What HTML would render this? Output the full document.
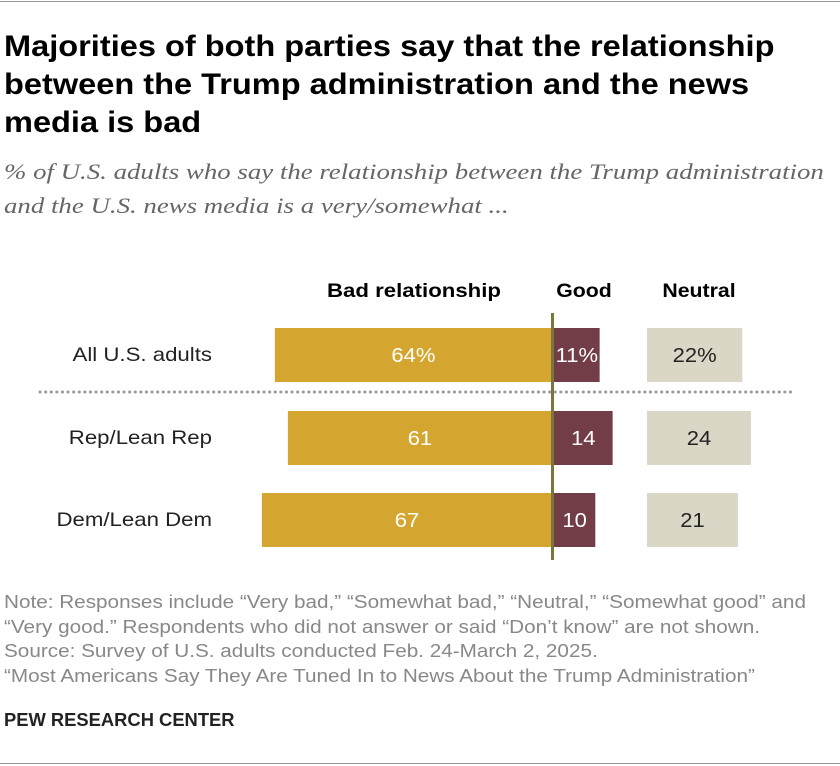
<!DOCTYPE html>
<html><head><meta charset="utf-8"><style>
body{margin:0;width:840px;height:766px;background:#fff;font-family:"Liberation Sans",sans-serif;position:relative;overflow:hidden}
.t{position:absolute;white-space:nowrap;transform-origin:0 0}
</style></head><body>
<div style="position:absolute;left:0;top:1px;width:840px;height:1px;background:#999"></div>
<div class="t" style="left:4px;top:28px;font-size:30px;font-weight:bold;line-height:38px;color:#000;transform:scaleX(1.085)">Majorities of both parties say that the relationship<br>between the Trump administration and the news<br>media is bad</div>
<div class="t" style="left:4px;top:155px;font-family:'Liberation Serif',serif;font-style:italic;font-size:22px;line-height:34px;color:#666;transform:scaleX(1.22)">% of U.S. adults who say the relationship between the Trump administration<br>and the U.S. news media is a very/somewhat ...</div>
<svg id="chart" width="840" height="580" style="position:absolute;left:0;top:0" font-family="Liberation Sans, sans-serif"></svg>
<div class="t" style="left:4px;top:590px;font-size:18px;line-height:24.5px;color:#888;transform:scaleX(1.15)">Note: Responses include “Very bad,” “Somewhat bad,” “Neutral,” “Somewhat good” and<br>“Very good.” Respondents who did not answer or said “Don’t know” are not shown.<br>Source: Survey of U.S. adults conducted Feb. 24-March 2, 2025.<br>“Most Americans Say They Are Tuned In to News About the Trump Administration”</div>
<div class="t" style="left:4px;top:710px;font-size:18px;font-weight:bold;color:#222;transform:scaleX(1.02)">PEW RESEARCH CENTER</div>
<div style="position:absolute;left:0;top:763px;width:840px;height:1px;background:#999"></div>
<script>
const categories=["All U.S. adults","Rep/Lean Rep","Dem/Lean Dem"];
const badValues=[64,61,67];
const goodValues=[11,14,10];
const neutralValues=[22,24,21];
const svg=document.getElementById('chart');
const NS='http://www.w3.org/2000/svg';
const k=4.33, zero=552, nStart=647;
const rowY=[328,411,493], h=54;
function sx(v){return v*k;}
function mk(tag,attrs,name){const e=document.createElementNS(NS,tag);for(const a in attrs)e.setAttribute(a,attrs[a]);


svg.appendChild(e);return e;}
function txt(x,y,s,attrs,name,scale){const e=mk('text',Object.assign({x:0,y:0,transform:'translate('+x+','+y+') scale('+(scale||1)+',1)'},attrs),name);e.textContent=s;return e;}
txt(414,297,"Bad relationship",{"font-size":19,"font-weight":"bold","text-anchor":"middle",fill:"#000"},"header-bad",1.17);
txt(584,297,"Good",{"font-size":19,"font-weight":"bold","text-anchor":"middle",fill:"#000"},"header-good",1.12);
txt(699,297,"Neutral",{"font-size":19,"font-weight":"bold","text-anchor":"middle",fill:"#000"},"header-neutral",1.12);
categories.forEach((c,i)=>{
 const y=rowY[i], pct=i===0?"%":"";
 txt(212,y+33,c,{"font-size":19,"text-anchor":"end",fill:"#222"},"category-label",1.17);
 const bw=sx(badValues[i]);
 mk('rect',{x:zero-bw,y:y,width:bw,height:h,fill:"#D4A62F"},"bar-bad");
 txt(zero-bw/2,y+34,badValues[i]+pct,{"font-size":20,"text-anchor":"middle",fill:"#fff"},"value-bad",1.1);
 const gw=sx(goodValues[i]);
 mk('rect',{x:zero,y:y,width:gw,height:h,fill:"#733D47"},"bar-good");
 txt(zero+gw/2+1,y+34,goodValues[i]+pct,{"font-size":20,"text-anchor":"middle",fill:"#fff"},"value-good",1.1);
 const nw=sx(neutralValues[i]);
 mk('rect',{x:nStart,y:y,width:nw,height:h,fill:"#DAD7C7"},"bar-neutral");
 txt(nStart+nw/2,y+34,neutralValues[i]+pct,{"font-size":20,"text-anchor":"middle",fill:"#222"},"value-neutral",1.1);
});
mk('line',{x1:40,x2:796,y1:392,y2:392,stroke:"#999","stroke-width":3,"stroke-dasharray":"0.1 5.5","stroke-linecap":"round"},"divider");
mk('line',{x1:552.5,x2:552.5,y1:313,y2:560,stroke:"#78783A","stroke-width":3},"zero-line");
</script>
</body></html>
